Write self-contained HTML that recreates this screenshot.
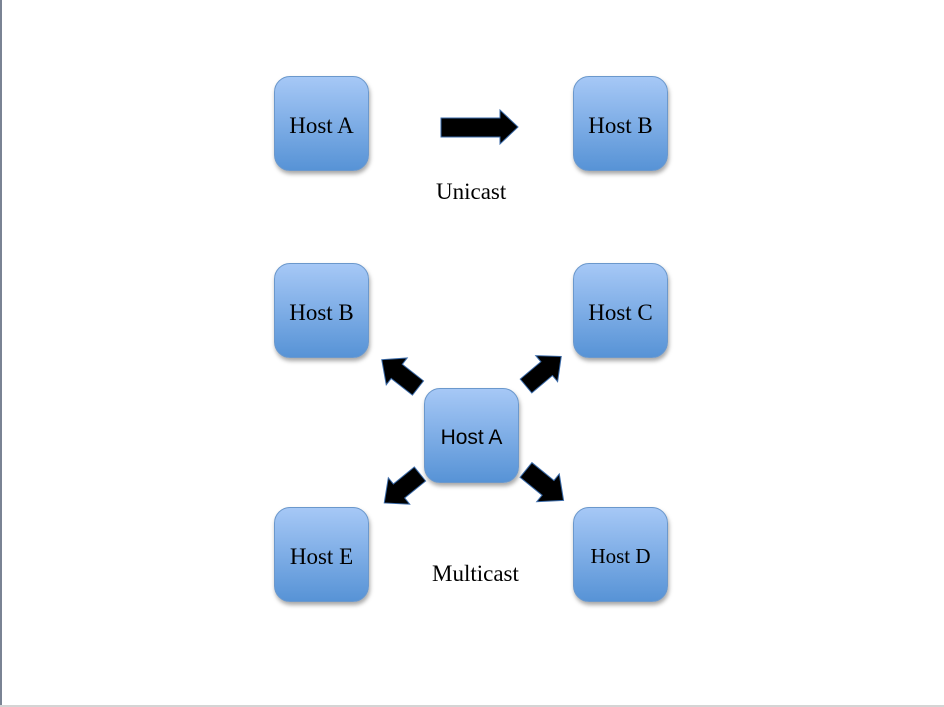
<!DOCTYPE html>
<html><head><meta charset="utf-8"><style>
html,body{margin:0;padding:0;width:944px;height:707px;overflow:hidden;background:#fff}
.wrap{position:relative;width:944px;height:707px}
.lb{position:absolute;left:0;top:0;width:2px;height:707px;background:#7a8394}
.bb{position:absolute;left:0;top:705px;width:944px;height:2px;background:#d4d4d4}
.box{position:absolute;width:95px;height:95px;border-radius:16px;background:linear-gradient(#a6c8f6,#5793d6);border:1px solid #6b98cc;box-shadow:1px 3px 4px rgba(0,0,0,0.35);box-sizing:border-box;display:flex;align-items:center;justify-content:center;padding-top:4px;font-family:"Liberation Serif",serif;font-size:23px;color:#000}
.sans{font-family:"Liberation Sans",sans-serif;font-size:21px}
.t{position:absolute;font-family:"Liberation Serif",serif;font-size:23px;color:#000}
svg{position:absolute;left:0;top:0}
</style></head><body><div class="wrap">
<div class="lb"></div><div class="bb"></div>
<div class="box" style="left:274px;top:76px">Host A</div>
<div class="box" style="left:573px;top:76px">Host B</div>
<div class="t" style="left:436px;top:179px">Unicast</div>
<div class="box" style="left:274px;top:263px">Host B</div>
<div class="box" style="left:573px;top:263px">Host C</div>
<div class="box sans" style="left:424px;top:388px">Host A</div>
<div class="box" style="left:274px;top:507px">Host E</div>
<div class="box" style="left:573px;top:507px;font-size:21px">Host D</div>
<div class="t" style="left:432px;top:561px">Multicast</div>
<svg width="944" height="707">
<defs><g id="a"><polygon points="0,-9 27,-9 27,-17 46,0 27,17 27,9 0,9" fill="#000" stroke="#3a6aa8" stroke-width="1"/></g></defs>
<polygon points="441,118 500,118 500,110 518,127 500,144 500,137 441,137" fill="#000" stroke="#3a6aa8" stroke-width="1"/>
<use href="#a" transform="translate(418,388) rotate(-142)"/>
<use href="#a" transform="translate(526,386) rotate(-40)"/>
<use href="#a" transform="translate(420,474) rotate(141)"/>
<use href="#a" transform="translate(526,470) rotate(39) scale(1.05)"/>
</svg>
</div></body></html>
